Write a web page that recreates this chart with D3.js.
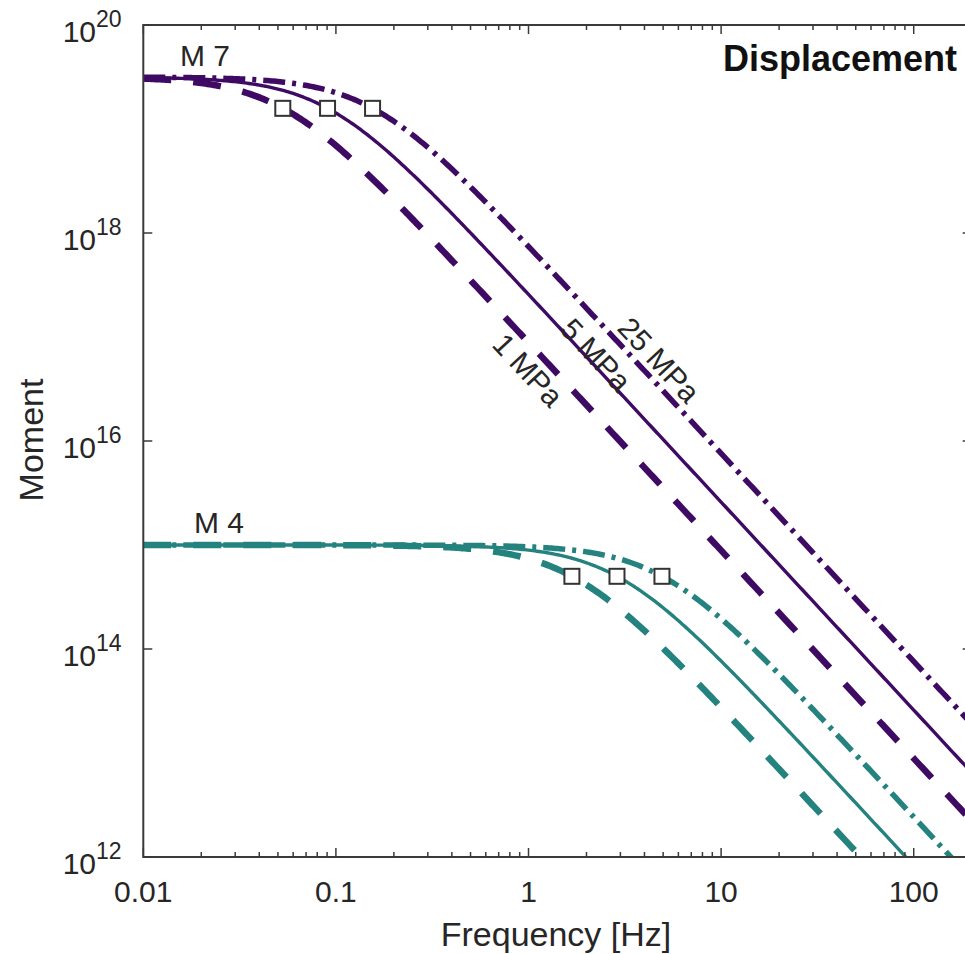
<!DOCTYPE html>
<html>
<head>
<meta charset="utf-8">
<script src="https://cdn.jsdelivr.net/npm/d3@7"></script>
<style>
  html, body { margin: 0; padding: 0; background: #fff; }
  svg { display: block; font-family: "Liberation Sans", Arial, Helvetica, sans-serif; }
</style>
</head>
<body>
<svg id="chart" width="965" height="954"></svg>
<script>
// Source displacement spectra (omega-squared model) for two magnitudes
// and three stress drops; squares mark the corner frequencies.
const magnitudes = ["M 7", "M 4"];
const plateauMoment = [3.16e19, 1.0e15];          // long-period level, N·m
const stressDrops = ["1 MPa", "5 MPa", "25 MPa"];
const cornerFreqM7 = [0.053, 0.0905, 0.155];      // Hz
const cornerFreqM4 = [1.68, 2.88, 4.93];          // Hz
const seriesColors = ["#3f0a64", "#24827f"];
const xTickValues = [0.01, 0.1, 1, 10, 100];
const xTickLabels = ["0.01", "0.1", "1", "10", "100"];
const yTickExponents = [12, 14, 16, 18, 20];

const cornerFreqs = [cornerFreqM7, cornerFreqM4];

const svg = d3.select("#chart");
const W = 965, H = 954;
const plot = { left: 143.3, right: 971.7, top: 25, bottom: 857 };

const x = d3.scaleLog().domain([0.01, 200]).range([plot.left, plot.right]);
const y = d3.scaleLog().domain([1e12, 1e20]).range([plot.bottom, plot.top]);

svg.append("rect").attr("width", W).attr("height", H).attr("fill", "#fff");

svg.append("defs").append("clipPath").attr("id", "plotClip")
  .append("rect")
  .attr("x", plot.left).attr("y", plot.top)
  .attr("width", plot.right - plot.left).attr("height", plot.bottom - plot.top);

// Line styles per stress drop: dashed, solid, dash-dot
const styles = [
  { width: 6.5, dash: "28,22" },
  { width: 3.4, dash: null },
  { width: 5.5, dash: "22,7,4,7" }
];

const freqGrid = d3.range(0, 401).map(i => Math.pow(10, -2 + i * (Math.log10(200) + 2) / 400));
const spectrum = (m0, fc) => f => m0 / (1 + (f / fc) * (f / fc));

const line = d3.line()
  .x(d => x(d[0]))
  .y(d => y(d[1]));

const curves = svg.append("g").attr("clip-path", "url(#plotClip)");

magnitudes.forEach((mag, mi) => {
  stressDrops.forEach((sd, si) => {
    const fn = spectrum(plateauMoment[mi], cornerFreqs[mi][si]);
    const pts = freqGrid.map(f => [f, fn(f)]);
    const p = curves.append("path")
      .datum(pts)
      .attr("d", line)
      .attr("fill", "none")
      .attr("stroke", seriesColors[mi])
      .attr("stroke-width", styles[si].width)
      .attr("stroke-linejoin", "round");
    if (styles[si].dash) p.attr("stroke-dasharray", styles[si].dash);
  });
});

// Corner-frequency markers at half the plateau level
magnitudes.forEach((mag, mi) => {
  cornerFreqs[mi].forEach(fc => {
    svg.append("rect")
      .attr("x", x(fc) - 7.5).attr("y", y(plateauMoment[mi] / 2) - 7.5)
      .attr("width", 15).attr("height", 15)
      .attr("fill", "#fff").attr("stroke", "#333").attr("stroke-width", 2);
  });
});

// Axes box
const axisColor = "#3a3a3a";
svg.append("rect")
  .attr("x", plot.left).attr("y", plot.top)
  .attr("width", plot.right - plot.left).attr("height", plot.bottom - plot.top)
  .attr("fill", "none").attr("stroke", axisColor).attr("stroke-width", 2);

// x ticks (major + minor, inward, bottom and top)
const ticks = svg.append("g").attr("stroke", axisColor).attr("stroke-width", 1.5);
const allX = [];
for (let e = -2; e <= 2; e++) {
  for (let k = 1; k <= 9; k++) {
    const v = k * Math.pow(10, e);
    if (v <= 200) allX.push({ v, major: k === 1 });
  }
}
allX.forEach(t => {
  const len = t.major ? 9 : 5;
  const px = x(t.v);
  ticks.append("line").attr("x1", px).attr("x2", px).attr("y1", plot.bottom).attr("y2", plot.bottom - len);
  ticks.append("line").attr("x1", px).attr("x2", px).attr("y1", plot.top).attr("y2", plot.top + len);
});
// y ticks at even decades, left and right
yTickExponents.forEach(e => {
  const py = y(Math.pow(10, e));
  ticks.append("line").attr("x1", plot.left).attr("x2", plot.left + 9).attr("y1", py).attr("y2", py);
  ticks.append("line").attr("x1", plot.right).attr("x2", plot.right - 9).attr("y1", py).attr("y2", py);
});

const textColor = "#262626";

// x tick labels
xTickValues.forEach((v, i) => {
  svg.append("text")
    .attr("x", x(v)).attr("y", 902)
    .attr("text-anchor", "middle")
    .attr("font-size", 30).attr("fill", textColor)
    .text(xTickLabels[i]);
});

// y tick labels as 10 with superscript exponent
yTickExponents.forEach(e => {
  const py = y(Math.pow(10, e));
  svg.append("text")
    .attr("x", 96).attr("y", py + 17)
    .attr("text-anchor", "end")
    .attr("font-size", 30).attr("fill", textColor)
    .text("10");
  svg.append("text")
    .attr("x", 96).attr("y", py + 2)
    .attr("text-anchor", "start")
    .attr("font-size", 23).attr("fill", textColor)
    .text(String(e));
});

// axis titles
svg.append("text")
  .attr("x", 556).attr("y", 946)
  .attr("text-anchor", "middle")
  .attr("font-size", 34).attr("fill", textColor)
  .text("Frequency [Hz]");

svg.append("text")
  .attr("transform", "translate(43,440) rotate(-90)")
  .attr("text-anchor", "middle")
  .attr("font-size", 34).attr("fill", textColor)
  .text("Moment");

// panel title
svg.append("text")
  .attr("x", 957).attr("y", 71)
  .attr("text-anchor", "end")
  .attr("font-size", 36).attr("font-weight", "bold").attr("fill", "#111")
  .text("Displacement");

// magnitude labels
const magLabelPos = [[180, 66], [194, 533]];
magnitudes.forEach((m, i) => {
  svg.append("text")
    .attr("x", magLabelPos[i][0]).attr("y", magLabelPos[i][1])
    .attr("font-size", 30).attr("fill", textColor)
    .text(m);
});

// stress-drop labels along the M 7 curves
const sdLabelPos = [[528, 370], [596, 355], [659, 360]];
stressDrops.forEach((s, i) => {
  svg.append("text")
    .attr("transform", `translate(${sdLabelPos[i][0]},${sdLabelPos[i][1]}) rotate(47)`)
    .attr("text-anchor", "middle")
    .attr("dominant-baseline", "central")
    .attr("font-size", 30).attr("fill", textColor)
    .text(s);
});
</script>
</body>
</html>
